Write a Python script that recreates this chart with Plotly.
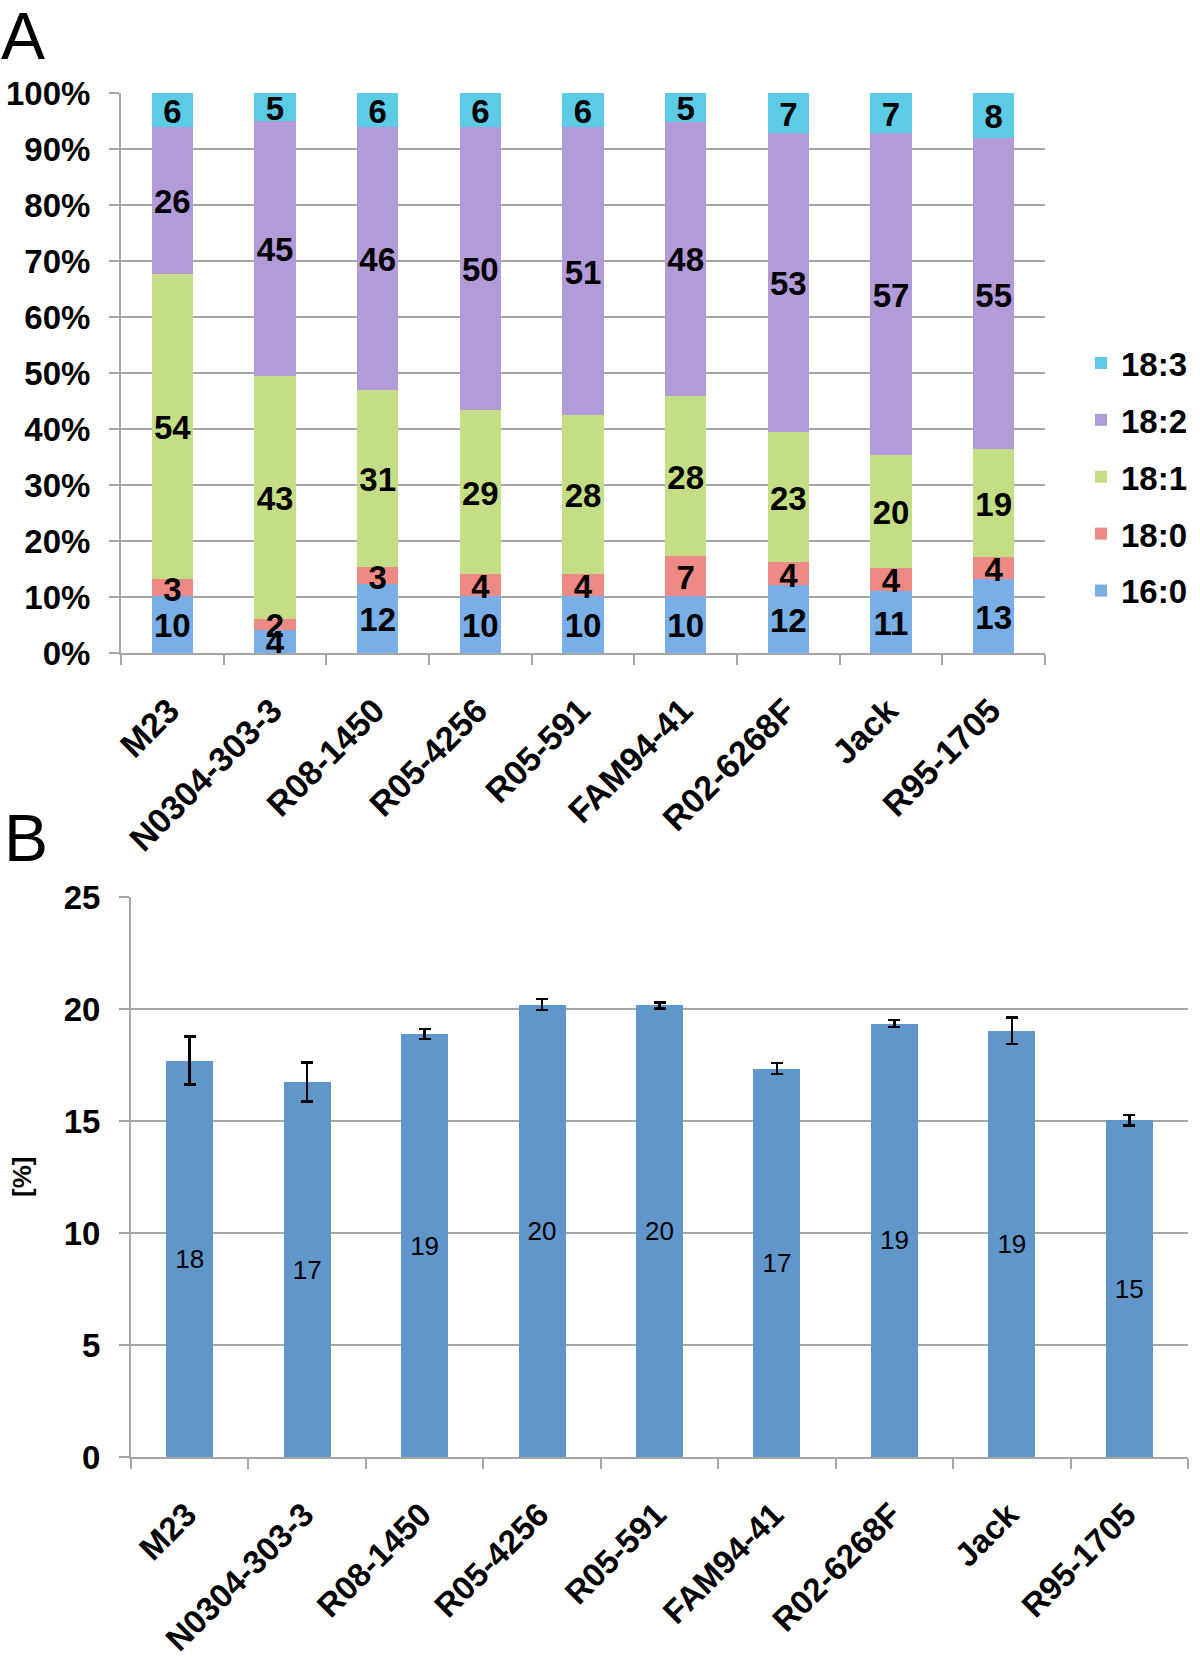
import plotly.graph_objects as go

# ---------------- data ----------------
lines = ["M23", "N0304-303-3", "R08-1450", "R05-4256", "R05-591",
         "FAM94-41", "R02-6268F", "Jack", "R95-1705"]

fa_16_0 = [10, 4, 12, 10, 10, 10, 12, 11, 13]
fa_18_0 = [3, 2, 3, 4, 4, 7, 4, 4, 4]
fa_18_1 = [54, 43, 31, 29, 28, 28, 23, 20, 19]
fa_18_2 = [26, 45, 46, 50, 51, 48, 53, 57, 55]
fa_18_3 = [6, 5, 6, 6, 6, 5, 7, 7, 8]

b_values = [17.70, 16.74, 18.88, 20.20, 20.16, 17.34, 19.35, 19.03, 15.03]
b_errors = [1.07, 0.87, 0.22, 0.24, 0.14, 0.25, 0.16, 0.60, 0.23]

pct_ticks = [0, 10, 20, 30, 40, 50, 60, 70, 80, 90, 100]
b_ticks = [0, 5, 10, 15, 20, 25]

# ---------------- styles ----------------
W, H = 1200, 1657
FONT = "Liberation Sans, Arial, Helvetica, sans-serif"
GRID = "#a6a6a6"

series = [
    ("16:0", fa_16_0, "#7aaee6"),
    ("18:0", fa_18_0, "#ee8a86"),
    ("18:1", fa_18_1, "#c4de86"),
    ("18:2", fa_18_2, "#b29bd8"),
    ("18:3", fa_18_3, "#5ccbe6"),
]

A_TOP, A_BOTTOM = 93, 653          # pixel rows of 100 % and 0 %
LABEL_DROP_PX = 4.5                 # optical nudge of segment labels


def px_x(p):
    return p / W


def px_y(p):
    return 1 - p / H


# normalise each line to 100 % (100 % stacked chart)
totals = [sum(s[1][i] for s in series) for i in range(len(lines))]
label_nudge = LABEL_DROP_PX * 100 / (A_BOTTOM - A_TOP)

fig = go.Figure()

label_x, label_y, label_t = [], [], []
bottoms = [0.0] * len(lines)
for k, (name, vals, color) in enumerate(series):
    norm = [v / t * 100 for v, t in zip(vals, totals)]
    fig.add_trace(go.Bar(
        x=lines, y=norm, name=name,
        marker=dict(color=color, line=dict(width=0)),
        width=0.4, xaxis="x", yaxis="y",
        legendgroup=name, legendrank=100 - k, hoverinfo="skip",
    ))
    for i, n in enumerate(norm):
        label_x.append(lines[i])
        label_y.append(bottoms[i] + n / 2 - label_nudge)
        label_t.append(str(vals[i]))
        bottoms[i] += n

fig.add_trace(go.Scatter(
    x=label_x, y=label_y, text=label_t, mode="text",
    textposition="middle center",
    textfont=dict(family=FONT, size=33, color="black", weight="bold"),
    xaxis="x", yaxis="y", showlegend=False, cliponaxis=False, hoverinfo="skip",
))

fig.add_trace(go.Bar(
    x=lines, y=b_values, name="B",
    marker=dict(color="#6096ca", line=dict(width=0)),
    text=[str(int(round(v))) for v in b_values],
    textposition="inside", insidetextanchor="middle",
    textangle=0, constraintext="none",
    textfont=dict(family=FONT, size=26, color="black"),
    error_y=dict(type="data", array=b_errors, visible=True,
                 color="black", thickness=2.5, width=6),
    width=0.4, xaxis="x2", yaxis="y2", showlegend=False, hoverinfo="skip",
))

axis_common = dict(
    showline=True, linecolor=GRID, linewidth=2,
    ticks="outside", tickcolor=GRID, tickwidth=2, ticklen=10,
    automargin=False,
)

fig.update_layout(
    width=W, height=H,
    margin=dict(l=0, r=0, t=0, b=0),
    paper_bgcolor="white", plot_bgcolor="white",
    barmode="stack",
    font=dict(family=FONT, color="black"),
    xaxis=dict(
        domain=[px_x(121), px_x(1045)], anchor="y",
        type="category", tickson="boundaries", tickangle=-45,
        tickfont=dict(family=FONT, size=34, weight="bold"),
        ticklabelstandoff=22, ticklabelshift=-3,
        **axis_common,
    ),
    yaxis=dict(
        domain=[px_y(A_BOTTOM), px_y(A_TOP)], anchor="x",
        range=[0, 100], tickvals=pct_ticks,
        ticktext=[f"{t}%" for t in pct_ticks],
        showgrid=True, gridcolor=GRID, gridwidth=2, zeroline=False,
        tickfont=dict(family=FONT, size=33, weight="bold"),
        ticklabelstandoff=12,
        **axis_common,
    ),
    xaxis2=dict(
        domain=[px_x(131), px_x(1188)], anchor="y2",
        type="category", tickson="boundaries", tickangle=-45,
        tickfont=dict(family=FONT, size=33, weight="bold"),
        ticklabelstandoff=23, ticklabelshift=-3,
        **axis_common,
    ),
    yaxis2=dict(
        domain=[px_y(1457), px_y(897)], anchor="x2",
        range=[0, 25], tickvals=b_ticks,
        showgrid=True, gridcolor=GRID, gridwidth=2, zeroline=False,
        tickfont=dict(family=FONT, size=33, weight="bold"),
        ticklabelstandoff=12,
        **axis_common,
    ),
    legend=dict(
        x=px_x(1081), y=px_y(335), xanchor="left", yanchor="top",
        traceorder="grouped", tracegroupgap=11,
        font=dict(family=FONT, size=33, weight="bold"),
        bgcolor="rgba(0,0,0,0)", itemwidth=30,
    ),
    showlegend=True,
    annotations=[
        dict(text="A", x=px_x(-1), y=px_y(36), xref="paper", yref="paper",
             xanchor="left", yanchor="middle", showarrow=False,
             font=dict(family=FONT, size=66)),
        dict(text="B", x=px_x(2), y=px_y(838), xref="paper", yref="paper",
             xanchor="left", yanchor="middle", showarrow=False,
             font=dict(family=FONT, size=66)),
        dict(text="[%]", x=px_x(22), y=px_y(1177), xref="paper", yref="paper",
             xanchor="center", yanchor="middle", showarrow=False, textangle=-90,
             font=dict(family=FONT, size=26, weight="bold")),
    ],
)

fig.write_html(
    "out.html",
    config={"displayModeBar": False},
    post_script="document.body.style.margin='0';document.body.style.padding='0';",
)
